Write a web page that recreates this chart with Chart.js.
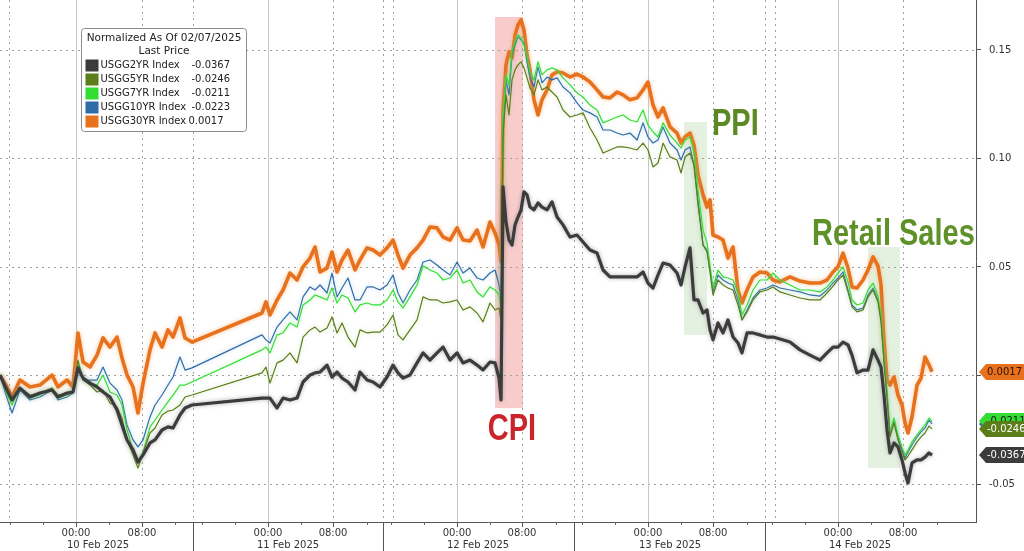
<!DOCTYPE html>
<html>
<head>
<meta charset="utf-8">
<title>Treasury yields normalized to 02/07/2025</title>
<script src="https://cdn.jsdelivr.net/npm/chart.js@4.4.1/dist/chart.umd.min.js"></script>
<style>
  html,body{margin:0;padding:0;background:#fff;}
  #wrap{width:1024px;height:551px;position:relative;}
</style>
</head>
<body>
<div id="wrap"><canvas id="chart"></canvas></div>
<script>
// --- data: session hours on the compressed axis (non-trading gaps removed) ---
const hours = [
  0,0.75,1.5,2.5,3.75,5,6.5,7.25,8.38,9.13,9.75,10.38,11.25,12.13,12.88,13.75,14.63,15.25,15.88,16.63,17.25,17.88,18.75,19.38,20.25,21,21.63,22.5,23.13,24,
  32.75,33.25,33.75,34.63,35.38,36.25,37.13,37.88,38.75,39.38,40,40.88,41.5,42.13,42.75,43.5,44.38,45,45.88,46.63,47.5,48.38,49.13,49.75,50.38,51.25,52.13,52.88,53.75,54.63,55.38,56.25,57.13,57.88,58.75,59.63,60.38,61.25,61.88,62.38,
  62.63,62.88,63.25,63.63,64,64.38,64.75,65.13,65.5,65.88,66.25,66.75,67.25,67.75,68.38,69,69.63,70.38,71.25,72.13,72.88,73.75,74.63,75.38,76.25,77.13,77.88,78.75,79.63,80.38,81,81.63,82.25,82.88,83.75,84.63,85.13,85.63,86.25,86.75,87.25,87.88,88.38,88.75,89.13,89.75,90.38,91,91.63,92.25,92.75,93.38,
  94.13,95,95.88,96.63,97.5,98.75,100,101.25,102.5,103.38,104.13,104.75,105.38,106,106.5,107.13,107.88,108.5,109.13,109.75,110.13,110.5,110.88,111.25,111.75,112.25,112.75,113.13,113.5,114,114.63,115.13,115.63,116.13,116.5
];
const usgg2 = [
  0.0002,-0.0058,-0.0113,-0.0058,-0.0099,-0.0081,-0.0067,-0.0099,-0.0081,-0.0076,0.0035,-0.0012,-0.0035,-0.0053,-0.0076,-0.0099,-0.0159,-0.0228,-0.0297,-0.0343,-0.0399,-0.0366,-0.0311,-0.0297,-0.0251,-0.0237,-0.0242,-0.0182,-0.0150,-0.0136,
  -0.0104,-0.0104,-0.0104,-0.0150,-0.0104,-0.0113,-0.0104,-0.0030,0.0002,0.0012,0.0016,0.0048,-0.0007,0.0016,-0.0012,-0.0030,-0.0067,0.0016,-0.0021,-0.0030,-0.0053,-0.0007,0.0048,0.0012,-0.0012,0.0002,0.0058,0.0104,0.0071,0.0104,0.0131,0.0071,0.0104,0.0058,0.0071,0.0048,0.0025,0.0062,0.0058,-0.0012,
  -0.0113,0.0869,0.0707,0.0624,0.0601,0.0694,0.0730,0.0763,0.0846,0.0832,0.0776,0.0763,0.0795,0.0776,0.0763,0.0800,0.0730,0.0694,0.0638,0.0647,0.0615,0.0578,0.0564,0.0486,0.0454,0.0454,0.0454,0.0454,0.0454,0.0477,0.0426,0.0403,0.0463,0.0518,0.0509,0.0472,0.0417,0.0500,0.0588,0.0348,0.0348,0.0288,0.0302,0.0210,0.0164,0.0242,0.0196,0.0256,0.0177,0.0150,0.0104,0.0196,
  0.0196,0.0187,0.0177,0.0177,0.0168,0.0154,0.0118,0.0094,0.0071,0.0104,0.0131,0.0131,0.0154,0.0141,0.0094,0.0012,0.0025,0.0025,0.0118,0.0071,0.0039,-0.0090,-0.0251,-0.0357,-0.0311,-0.0329,-0.0389,-0.0449,-0.0495,-0.0403,-0.0389,-0.0389,-0.0376,-0.0357,-0.0367
];
const usgg5 = [
  0.0002,-0.0067,-0.0113,-0.0058,-0.0090,-0.0081,-0.0058,-0.0090,-0.0081,-0.0076,0.0071,-0.0021,-0.0044,-0.0076,-0.0067,-0.0127,-0.0145,-0.0196,-0.0297,-0.0366,-0.0426,-0.0357,-0.0265,-0.0242,-0.0182,-0.0164,-0.0159,-0.0136,-0.0099,-0.0090,
  0.0012,0.0039,-0.0035,0.0058,0.0071,0.0104,0.0058,0.0177,0.0210,0.0223,0.0200,0.0219,0.0270,0.0196,0.0242,0.0177,0.0131,0.0210,0.0196,0.0200,0.0200,0.0233,0.0279,0.0187,0.0164,0.0210,0.0256,0.0362,0.0348,0.0348,0.0334,0.0339,0.0348,0.0302,0.0316,0.0288,0.0247,0.0334,0.0302,0.0311,
  0.0256,0.1108,0.1293,0.1200,0.1362,0.1408,0.1431,0.1445,0.1417,0.1371,0.1325,0.1293,0.1362,0.1316,0.1329,0.1306,0.1283,0.1223,0.1191,0.1200,0.1210,0.1140,0.1085,0.1025,0.1039,0.1053,0.1053,0.1048,0.1039,0.1071,0.1039,0.0961,0.0979,0.1071,0.1007,0.0993,0.0933,0.1007,0.1025,0.0970,0.0786,0.0601,0.0569,0.0477,0.0371,0.0440,0.0417,0.0403,0.0394,0.0325,0.0256,0.0293,
  0.0348,0.0385,0.0394,0.0408,0.0385,0.0371,0.0357,0.0348,0.0348,0.0380,0.0412,0.0440,0.0463,0.0385,0.0316,0.0293,0.0302,0.0362,0.0394,0.0339,0.0247,0.0062,-0.0104,-0.0283,-0.0219,-0.0297,-0.0353,-0.0389,-0.0371,-0.0343,-0.0306,-0.0283,-0.0265,-0.0233,-0.0246
];
const usgg7 = [
  0.0002,-0.0076,-0.0136,-0.0058,-0.0104,-0.0090,-0.0058,-0.0104,-0.0090,-0.0076,0.0048,-0.0012,-0.0035,-0.0044,0.0002,-0.0076,-0.0090,-0.0136,-0.0251,-0.0343,-0.0403,-0.0353,-0.0237,-0.0205,-0.0159,-0.0122,-0.0090,-0.0044,-0.0044,-0.0030,
  0.0118,0.0131,0.0104,0.0187,0.0196,0.0242,0.0223,0.0325,0.0348,0.0371,0.0362,0.0348,0.0403,0.0334,0.0371,0.0357,0.0293,0.0325,0.0334,0.0325,0.0325,0.0348,0.0394,0.0339,0.0311,0.0362,0.0417,0.0505,0.0486,0.0472,0.0440,0.0449,0.0486,0.0426,0.0440,0.0385,0.0362,0.0408,0.0394,0.0371,
  0.0302,0.1200,0.1385,0.1339,0.1491,0.1537,0.1569,0.1555,0.1523,0.1463,0.1399,0.1362,0.1445,0.1385,0.1408,0.1417,0.1408,0.1371,0.1339,0.1302,0.1283,0.1246,0.1223,0.1164,0.1177,0.1191,0.1200,0.1177,0.1168,0.1223,0.1154,0.1122,0.1099,0.1164,0.1108,0.1071,0.1048,0.1085,0.1099,0.1030,0.0855,0.0670,0.0611,0.0509,0.0403,0.0486,0.0454,0.0449,0.0440,0.0380,0.0279,0.0325,
  0.0394,0.0440,0.0440,0.0472,0.0440,0.0417,0.0394,0.0394,0.0385,0.0408,0.0440,0.0472,0.0500,0.0431,0.0348,0.0325,0.0334,0.0394,0.0426,0.0366,0.0279,0.0085,-0.0067,-0.0260,-0.0196,-0.0274,-0.0329,-0.0366,-0.0343,-0.0306,-0.0274,-0.0251,-0.0228,-0.0196,-0.0211
];
const usgg10 = [
  0.0002,-0.0090,-0.0173,-0.0067,-0.0113,-0.0099,-0.0067,-0.0113,-0.0099,-0.0081,0.0039,-0.0021,-0.0021,-0.0021,0.0039,-0.0035,-0.0067,-0.0113,-0.0228,-0.0297,-0.0329,-0.0297,-0.0191,-0.0136,-0.0090,-0.0044,-0.0007,0.0085,0.0025,0.0035,
  0.0187,0.0164,0.0150,0.0223,0.0256,0.0293,0.0256,0.0362,0.0408,0.0394,0.0417,0.0380,0.0472,0.0362,0.0403,0.0449,0.0348,0.0348,0.0408,0.0408,0.0394,0.0417,0.0463,0.0380,0.0334,0.0394,0.0440,0.0523,0.0532,0.0509,0.0486,0.0463,0.0523,0.0472,0.0495,0.0449,0.0440,0.0472,0.0486,0.0417,
  0.0348,0.1154,0.1362,0.1293,0.1477,0.1523,0.1560,0.1546,0.1532,0.1445,0.1371,0.1329,0.1422,0.1348,0.1375,0.1362,0.1371,0.1329,0.1302,0.1256,0.1223,0.1210,0.1191,0.1131,0.1131,0.1117,0.1108,0.1117,0.1085,0.1164,0.1099,0.1071,0.1085,0.1145,0.1071,0.1039,0.0993,0.1039,0.1053,0.0970,0.0809,0.0601,0.0578,0.0486,0.0385,0.0463,0.0440,0.0426,0.0417,0.0348,0.0256,0.0302,
  0.0357,0.0394,0.0403,0.0417,0.0403,0.0394,0.0385,0.0371,0.0366,0.0394,0.0426,0.0449,0.0477,0.0394,0.0325,0.0302,0.0311,0.0371,0.0403,0.0348,0.0256,0.0071,-0.0090,-0.0274,-0.0205,-0.0288,-0.0343,-0.0380,-0.0353,-0.0320,-0.0283,-0.0260,-0.0242,-0.0205,-0.0223
];
const usgg30 = [
  0.0002,-0.0044,-0.0099,-0.0021,-0.0053,-0.0044,0.0002,-0.0053,-0.0021,-0.0053,0.0196,0.0062,0.0039,0.0094,0.0173,0.0131,0.0177,0.0081,0.0002,-0.0053,-0.0173,-0.0035,0.0118,0.0196,0.0131,0.0210,0.0177,0.0265,0.0173,0.0154,
  0.0288,0.0339,0.0279,0.0348,0.0394,0.0472,0.0440,0.0500,0.0541,0.0592,0.0477,0.0495,0.0569,0.0477,0.0532,0.0578,0.0486,0.0532,0.0588,0.0578,0.0555,0.0588,0.0624,0.0555,0.0495,0.0555,0.0588,0.0624,0.0684,0.0680,0.0638,0.0624,0.0680,0.0624,0.0620,0.0670,0.0592,0.0707,0.0657,0.0601,
  0.0523,0.1223,0.1431,0.1491,0.1463,0.1569,0.1615,0.1638,0.1592,0.1477,0.1408,0.1270,0.1200,0.1270,0.1316,0.1385,0.1399,0.1394,0.1375,0.1389,0.1375,0.1352,0.1316,0.1283,0.1279,0.1306,0.1293,0.1270,0.1279,0.1316,0.1352,0.1246,0.1191,0.1233,0.1145,0.1117,0.1071,0.1099,0.1117,0.1062,0.0924,0.0832,0.0776,0.0809,0.0647,0.0638,0.0624,0.0541,0.0592,0.0394,0.0334,0.0394,
  0.0454,0.0477,0.0472,0.0440,0.0431,0.0454,0.0435,0.0426,0.0426,0.0440,0.0477,0.0500,0.0564,0.0495,0.0408,0.0403,0.0440,0.0486,0.0546,0.0505,0.0417,0.0164,-0.0021,-0.0044,-0.0007,-0.0090,-0.0136,-0.0219,-0.0265,-0.0191,-0.0044,-0.0012,0.0085,0.0048,0.0017
];
const seriesNames = ['USGG2YR Index','USGG5YR Index','USGG7YR Index','USGG10YR Index','USGG30YR Index'];
const lastPrice = [-0.0367, -0.0246, -0.0211, -0.0223, 0.0017];

// --- axis ticks ---
const yTicks = [-0.05, 0, 0.05, 0.10, 0.15];
const midnights = [9.5, 33.5, 57.13, 81, 104.75];
const eightAM = [17.75, 41.63, 65.25, 89.13, 112.88];
const dayBreaks = [24.13, 47.88, 71.75, 95.63];
const sessionOpens = [1.1, 49.13, 72.75, 96.88];
const dayLabels = ['10 Feb 2025','11 Feb 2025','12 Feb 2025','13 Feb 2025','14 Feb 2025'];
const dayLabelAt = [12.25, 36, 59.75, 83.75, 107.5];

// --- event windows + labels ---
const events = [
  {text:'CPI', from:61.88, to:65.38, top:0.1652, bottom:-0.0150, tx:64, ty:-0.0297, align:'center', fill:'rgba(238,120,120,0.38)', color:'#c9252b'},
  {text:'PPI', from:85.5, to:88.38, top:0.1168, bottom:0.0187, tx:89, ty:0.1108, align:'left', fill:'rgba(150,200,130,0.25)', color:'#5b8a24'},
  {text:'Retail Sales', from:108.5, to:112.5, top:0.0592, bottom:-0.0426, tx:101.5, ty:0.0601, align:'left', fill:'rgba(150,200,130,0.25)', color:'#5e9128'}
];

// --- styles ---
const colors = ['#3c3c3c', '#5b7d1a', '#33dd33', '#2f6da6', '#e8711d'];
const glows = ['rgba(110,110,110,0.55)', 'rgba(170,200,120,0.5)', 'rgba(150,245,150,0.6)', 'rgba(130,170,220,0.5)', 'rgba(245,160,90,0.6)'];
const widths = [3.2, 1.2, 1.2, 1.2, 3.6];
const tagText = ['#fff', '#fff', '#111', '#fff', '#2a1200'];
const tagOrder = [3, 2, 1, 4, 0];
const FONT = 'DejaVu Sans';

Chart.defaults.font.family = FONT;
Chart.defaults.font.size = 10;

function line(ctx, x0, y0, x1, y1){ ctx.beginPath(); ctx.moveTo(x0, y0); ctx.lineTo(x1, y1); ctx.stroke(); }

const decor = {
  id: 'decor',
  beforeDatasetsDraw(chart){
    const {ctx, chartArea:a, scales:{x, y}} = chart;
    ctx.save();
    events.forEach(e => {
      const x0 = x.getPixelForValue(e.from), x1 = x.getPixelForValue(e.to);
      const y0 = y.getPixelForValue(e.top), y1 = y.getPixelForValue(e.bottom);
      ctx.fillStyle = e.fill;
      ctx.fillRect(x0, y0, x1 - x0, y1 - y0);
    });
    ctx.lineWidth = 1;
    ctx.strokeStyle = '#a0a0a0';
    ctx.setLineDash([2, 4]);
    yTicks.forEach(v => { const p = Math.round(y.getPixelForValue(v)) + 0.5; line(ctx, a.left, p, a.right, p); });
    [...eightAM, ...dayBreaks, ...sessionOpens].forEach(t => { const p = Math.round(x.getPixelForValue(t)) + 0.5; line(ctx, p, a.top, p, a.bottom); });
    ctx.setLineDash([]);
    ctx.strokeStyle = '#c8c8c8';
    midnights.forEach(t => { const p = Math.round(x.getPixelForValue(t)) + 0.5; line(ctx, p, a.top, p, a.bottom); });
    ctx.restore();
  },
  beforeDatasetDraw(chart, args){
    const ctx = chart.ctx;
    ctx.save();
    ctx.shadowColor = glows[args.index];
    ctx.shadowBlur = 4;
  },
  afterDatasetDraw(chart){ chart.ctx.restore(); },
  afterDatasetsDraw(chart){
    const {ctx, scales:{x, y}} = chart;
    ctx.save();
    ctx.font = 'bold 29px "Liberation Sans", Arial, sans-serif';
    events.forEach(e => {
      ctx.save();
      ctx.translate(x.getPixelForValue(e.tx), y.getPixelForValue(e.ty));
      ctx.scale(1, 1.3);
      ctx.fillStyle = e.color;
      ctx.textAlign = e.align;
      ctx.textBaseline = 'alphabetic';
      ctx.fillText(e.text, 0, 0);
      ctx.restore();
    });
    ctx.restore();
  },
  afterDraw(chart){
    const {ctx, chartArea:a, scales:{x, y}} = chart;
    const W = chart.width, H = chart.height;
    ctx.save();
    // x axis extras: minor ticks, session separators, day labels
    ctx.strokeStyle = '#666';
    ctx.lineWidth = 1;
    midnights.forEach(m => [-8.25, -4.125, 4.125, 12.375].forEach(d => {
      const p = Math.round(x.getPixelForValue(m + d)) + 0.5;
      if (p < a.right) line(ctx, p, a.bottom, p, a.bottom + 3);
    }));
    ctx.strokeStyle = '#555';
    dayBreaks.forEach(t => { const p = Math.round(x.getPixelForValue(t)) + 0.5; line(ctx, p, a.bottom, p, H); });
    ctx.fillStyle = '#333';
    ctx.font = `10px ${FONT}`;
    ctx.textAlign = 'center';
    ctx.textBaseline = 'middle';
    dayLabels.forEach((d, i) => ctx.fillText(d, x.getPixelForValue(dayLabelAt[i]), a.bottom + 23));

    // last-price tags on the right axis
    ctx.textAlign = 'left';
    tagOrder.forEach(i => {
      const yp = Math.round(y.getPixelForValue(lastPrice[i]));
      const x0 = a.right + 3;
      ctx.fillStyle = colors[i];
      ctx.beginPath();
      ctx.moveTo(x0, yp);
      ctx.lineTo(x0 + 7, yp - 8);
      ctx.lineTo(W, yp - 8);
      ctx.lineTo(W, yp + 8);
      ctx.lineTo(x0 + 7, yp + 8);
      ctx.closePath();
      ctx.fill();
      ctx.fillStyle = tagText[i];
      ctx.fillText(lastPrice[i].toFixed(4), x0 + 8, yp + 0.5);
    });

    // legend box
    const lx = 81.5, ly = 28.5, lw = 165, lh = 103;
    ctx.fillStyle = '#fff';
    ctx.strokeStyle = '#8c8c8c';
    ctx.beginPath();
    ctx.roundRect(lx, ly, lw, lh, 3);
    ctx.fill();
    ctx.stroke();
    ctx.fillStyle = '#222';
    ctx.textAlign = 'center';
    ctx.font = `10.5px ${FONT}`;
    ctx.fillText('Normalized As Of 02/07/2025', lx + lw / 2, ly + 10);
    ctx.fillText('Last Price', lx + lw / 2, ly + 23);
    ctx.textAlign = 'left';
    ctx.font = `10px ${FONT}`;
    seriesNames.forEach((n, i) => {
      const ry = ly + 37 + i * 14;
      ctx.fillStyle = colors[i];
      ctx.fillRect(lx + 4, ry - 6, 13, 12);
      ctx.fillStyle = '#222';
      ctx.fillText(n, lx + 19, ry);
      ctx.fillText(lastPrice[i].toFixed(4), lx + (lastPrice[i] < 0 ? 110 : 107), ry);
    });
    ctx.restore();
  }
};

const series = [usgg2, usgg5, usgg7, usgg10, usgg30];

new Chart(document.getElementById('chart'), {
  type: 'line',
  data: {
    datasets: series.map((vals, i) => ({
      label: seriesNames[i],
      data: hours.map((h, j) => ({x: h, y: vals[j]})),
      borderColor: colors[i],
      borderWidth: widths[i],
      borderJoinStyle: 'round',
      pointRadius: 0,
      tension: 0,
      fill: false
    }))
  },
  options: {
    responsive: true,
    maintainAspectRatio: false,
    animation: false,
    layout: {padding: 0},
    plugins: {legend: {display: false}, tooltip: {enabled: false}},
    scales: {
      x: {
        type: 'linear', min: 0, max: 122,
        afterBuildTicks: s => { s.ticks = [...midnights, ...eightAM].sort((a, b) => a - b).map(v => ({value: v})); },
        afterFit: s => { s.height = 29; s.paddingLeft = 0; s.paddingRight = 0; },
        ticks: {autoSkip: false, maxRotation: 0, padding: 0, color: '#333', font: {size: 10},
          callback: v => midnights.includes(v) ? '00:00' : '08:00'},
        grid: {drawOnChartArea: false, tickLength: 5, tickColor: '#555'},
        border: {color: '#555'}
      },
      y: {
        position: 'right', min: -0.0675, max: 0.173,
        afterBuildTicks: s => { s.ticks = yTicks.map(v => ({value: v})); },
        afterFit: s => { s.width = 48; s.paddingTop = 0; s.paddingBottom = 0; },
        ticks: {padding: 8, color: '#333', font: {size: 10}, callback: v => v.toFixed(2)},
        grid: {drawOnChartArea: false, tickLength: 5, tickColor: '#555'},
        border: {color: '#555'}
      }
    }
  },
  plugins: [decor]
});
</script>
</body>
</html>
